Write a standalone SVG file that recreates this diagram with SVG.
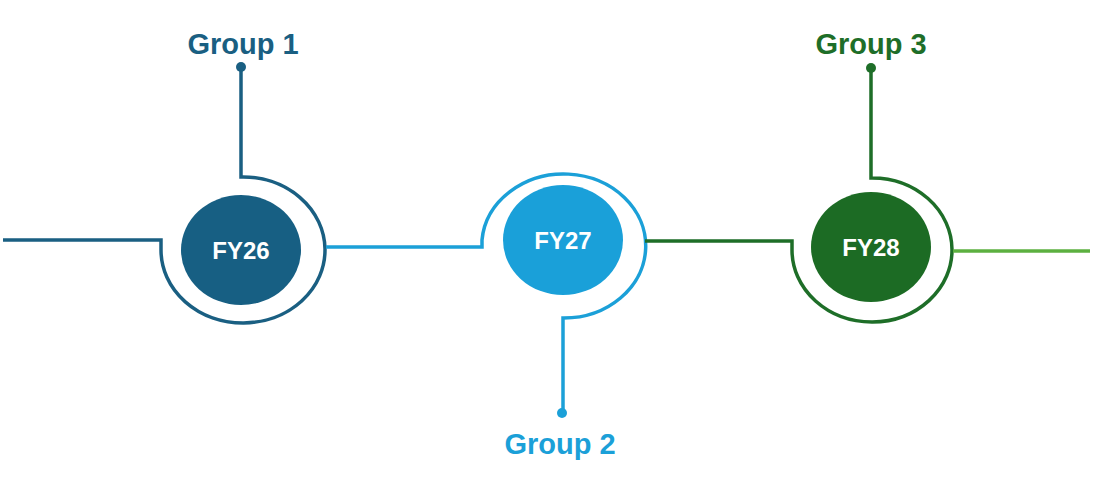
<svg xmlns="http://www.w3.org/2000/svg" width="1102" height="481" viewBox="0 0 1102 481">
<style>
.ln{fill:none;stroke-width:3.5}
.lbl{font-family:"Liberation Sans",Arial,sans-serif;font-weight:bold;font-size:29px;text-anchor:middle}
.fy{font-family:"Liberation Sans",Arial,sans-serif;font-weight:bold;font-size:24px;fill:#fff;text-anchor:middle}
</style>
<rect width="1102" height="481" fill="#fff"/>
<g id="connectors">
<path class="ln" stroke="#1a5f82" d="M3,240 H161 V250 A82,73 0 1 0 241,177 V67"/>
<circle cx="241" cy="67" r="5" fill="#1a5f82"/>
<path class="ln" stroke="#1ba0d8" d="M326,247 H482 V240 A82,72 0 1 1 563,318 V413"/>
<circle cx="562" cy="413" r="5" fill="#1ba0d8"/>
<path class="ln" stroke="#1e6e28" d="M645,241 H792 V250 A80,72 0 1 0 871,178 V68"/>
<circle cx="871" cy="68" r="5" fill="#1e6e28"/>
<path class="ln" stroke="#5cb040" d="M953,251 H1090"/>
</g>
<g id="node-fy26"><ellipse cx="241" cy="250" rx="60" ry="55" fill="#175f83"/><text class="fy" x="241" y="259">FY26</text></g>
<g id="node-fy27"><ellipse cx="563" cy="240" rx="60" ry="55" fill="#1aa0d9"/><text class="fy" x="563" y="249">FY27</text></g>
<g id="node-fy28"><ellipse cx="871" cy="247" rx="60" ry="55" fill="#1c6b24"/><text class="fy" x="871" y="256">FY28</text></g>
<g id="label-g1"><text class="lbl" x="243" y="54" fill="#1a5f82">Group 1</text></g>
<g id="label-g2"><text class="lbl" x="560" y="454" fill="#1ba0d8">Group 2</text></g>
<g id="label-g3"><text class="lbl" x="871" y="54" fill="#1e6e28">Group 3</text></g>
</svg>
